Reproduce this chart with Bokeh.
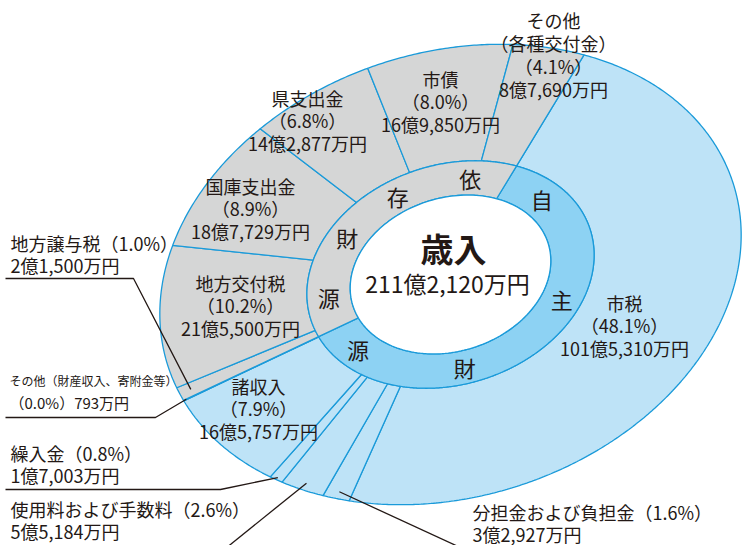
import numpy as np
from bokeh.plotting import figure
from bokeh.models import Range1d
from bokeh.core.properties import value
from bokeh.embed import file_html
from bokeh.resources import INLINE

# ---------------- data ----------------
categories = ["市税", "分担金および負担金", "使用料および手数料", "繰入金", "諸収入",
              "その他（財産収入、寄附金等）", "地方譲与税", "地方交付税", "国庫支出金",
              "県支出金", "市債", "その他（各種交付金）"]
amounts = [1015310, 32927, 55184, 17003, 165757, 793, 21500, 215500, 187729,
           142877, 169850, 87690]          # 万円
percents = ["48.1", "1.6", "2.6", "0.8", "7.9", "0.0", "1.0", "10.2", "8.9",
            "6.8", "8.0", "4.1"]
groups = ["自主", "自主", "自主", "自主", "自主", "自主",
          "依存", "依存", "依存", "依存", "依存", "依存"]
group_names = ["自主", "依存"]
group_chars = {"自主": ["自", "主", "財", "源"], "依存": ["依", "存", "財", "源"]}
title = "歳入"


def fmt_amount(v):
    oku, man = divmod(v, 10000)
    return f"{oku}億{man:,}万円" if oku else f"{man}万円"


amount_labels = [fmt_amount(v) for v in amounts]
total = sum(amounts)
total_label = fmt_amount(total)

# ---------------- styles / geometry ----------------
FONT = "Noto Sans CJK JP"
TXT = "#231815"
BLUE_LINE = "#1a9ad9"
C_OUT = {"自主": "#bee3f7", "依存": "#d5d6d6"}
C_IN = {"自主": "#8dd2f3", "依存": "#d5d6d6"}

W, H = 742, 545
CX, CY = 450, 274
A, B = 297, 222
PHI = np.deg2rad(18)
R_MID = 0.494
R_IN = 0.345
T0 = 49.0


def pt(t_deg, r):
    t = np.deg2rad(np.asarray(t_deg, dtype=float))
    u = A * r * np.cos(t)
    v = B * r * np.sin(t)
    x = CX + u * np.cos(PHI) - v * np.sin(PHI)
    y = CY - (u * np.sin(PHI) + v * np.cos(PHI))
    return x, y


def ring_patch(t0, t1, r0, r1):
    ts = np.linspace(t0, t1, max(8, int(abs(t1 - t0) * 2)))
    xo, yo = pt(ts, r1)
    xi, yi = pt(ts[::-1], r0)
    return list(np.concatenate([xo, xi])), list(np.concatenate([yo, yi]))


p = figure(width=W, height=H, x_range=Range1d(0, W), y_range=Range1d(H, 0),
           output_backend="svg", toolbar_location=None,
           x_axis_location=None, y_axis_location=None,
           min_border=0, outline_line_color=None, background_fill_color="white")
p.grid.visible = False

# outer ring slices
frac = np.array(amounts) / total
cum = np.concatenate([[0], np.cumsum(frac)])
t_start = T0 - 360 * cum[:-1]
t_end = T0 - 360 * cum[1:]
xs, ys, cols = [], [], []
for i in range(len(categories)):
    x_, y_ = ring_patch(t_start[i], t_end[i], R_MID, 1.0)
    xs.append(x_); ys.append(y_); cols.append(C_OUT[groups[i]])
p.patches(xs=xs, ys=ys, fill_color=cols, line_color=BLUE_LINE, line_width=1.3)

# inner ring (groups)
gsum = {g: sum(a for a, gg in zip(amounts, groups) if gg == g) for g in group_names}
xs, ys, cols = [], [], []
tg = T0
for g in group_names:
    t1 = tg - 360 * gsum[g] / total
    x_, y_ = ring_patch(tg, t1, R_IN, R_MID)
    xs.append(x_); ys.append(y_); cols.append(C_IN[g])
    tg = t1
p.patches(xs=xs, ys=ys, fill_color=cols, line_color=BLUE_LINE, line_width=1.3)

# centre hole
ts = np.linspace(0, 360, 200)
hx, hy = pt(ts, R_IN)
p.patch(x=list(hx), y=list(hy), fill_color="white", line_color=BLUE_LINE, line_width=1.3)

# ring characters
ring_angles = {"自主": [28, -38, -97, -153], "依存": [67, 102, 134, 170]}
rx, ry, rt = [], [], []
for g in group_names:
    for ch, a in zip(group_chars[g], ring_angles[g]):
        x_, y_ = pt(a, 0.42)
        rx.append(float(x_)); ry.append(float(y_)); rt.append(ch)
p.text(x=rx, y=ry, text=rt, text_font=value(FONT), text_font_size="22px",
       text_color=TXT, text_align="center", text_baseline="middle")

# centre text
p.text(x=[453], y=[247], text=[title], text_font=value(FONT), text_font_size="33px",
       text_font_style="bold", text_color=TXT, text_align="center", text_baseline="middle")
p.text(x=[447], y=[282], text=[total_label], text_font=value(FONT), text_font_size="23px",
       text_color=TXT, text_align="center", text_baseline="middle")

# in-slice labels (centre aligned): index -> (x, y of first line)
inside = {
    0: (624, 302),
    4: (258, 385),
    7: (240, 282),
    8: (250, 185),
    9: (307, 97),
    10: (440, 78),
}
lx, ly, lt = [], [], []
for i, (x0, y0) in inside.items():
    lines = [categories[i], f"（{percents[i]}%）", amount_labels[i]]
    for k, s in enumerate(lines):
        lx.append(x0); ly.append(y0 + 22.5 * k); lt.append(s)
# その他（各種交付金）
i = 11
for k, s in enumerate(["その他", "（各種交付金）", f"（{percents[i]}%）", amount_labels[i]]):
    lx.append(553); ly.append(19 + 23 * k); lt.append(s)
p.text(x=lx, y=ly, text=lt, text_font=value(FONT), text_font_size="18px",
       text_color=TXT, text_align="center", text_baseline="middle")

# outside labels (left aligned)
outside = {
    6: (10, 242),
    3: (10, 452),
    2: (10, 508),
    1: (472, 511),
}
ox, oy, ot = [], [], []
for i, (x0, y0) in outside.items():
    ox += [x0, x0]; oy += [y0, y0 + 22]
    ot += [f"{categories[i]}（{percents[i]}%）", amount_labels[i]]
p.text(x=ox, y=oy, text=ot, text_font=value(FONT), text_font_size="18px",
       text_color=TXT, text_align="left", text_baseline="middle")
i = 5
p.text(x=[9], y=[380], text=[categories[i]],
       text_font=value(FONT), text_font_size="12px", text_color=TXT,
       text_align="left", text_baseline="middle")
p.text(x=[9], y=[402], text=[f"（{percents[i]}%）{amount_labels[i]}"],
       text_font=value(FONT), text_font_size="15px", text_color=TXT,
       text_align="left", text_baseline="middle")

# leader lines: index -> (elbow points, tip radius)
leaders = {
    6: ([(5, 278), (133, 278)], 0.96),
    5: ([(5, 417), (155, 417)], 0.99),
    3: ([(5, 489), (220, 489)], 0.99),
    2: ([(225, 548)], 0.97),
    1: ([(462, 548)], 0.97),
}
mx, my = [], []
for i, (pts, rt_) in leaders.items():
    tx, ty = pt((t_start[i] + t_end[i]) / 2, rt_)
    mx.append([q[0] for q in pts] + [float(tx)])
    my.append([q[1] for q in pts] + [float(ty)])
p.multi_line(xs=mx, ys=my, line_color="#231815", line_width=1.3)

open("out.html", "w").write(file_html(p, INLINE))
